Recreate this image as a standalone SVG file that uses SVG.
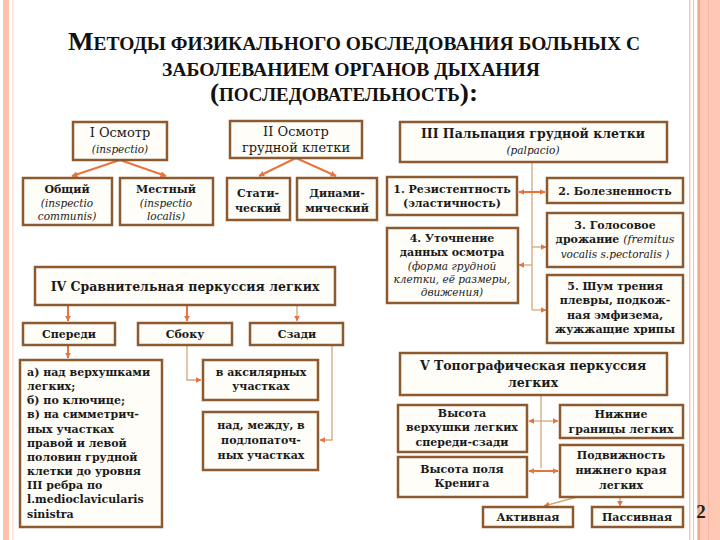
<svg xmlns="http://www.w3.org/2000/svg" width="720" height="540" viewBox="0 0 720 540">
<style>
.box{fill:#FEFDF8;stroke:#8C5A2E;stroke-width:2.5}
.t{font-family:"DejaVu Serif","Liberation Serif",serif;font-weight:bold;font-size:11px;fill:#1a1a1a;text-anchor:middle}
.h{font-family:"DejaVu Serif","Liberation Serif",serif;font-weight:bold;font-size:12.5px;fill:#1a1a1a;text-anchor:middle}
.r{font-family:"DejaVu Serif","Liberation Serif",serif;font-size:13px;fill:#1a1a1a;text-anchor:middle}
.i{font-family:"DejaVu Serif","Liberation Serif",serif;font-style:italic;font-weight:normal;font-size:10.5px;fill:#1a1a1a;text-anchor:middle}
.l{font-family:"DejaVu Serif","Liberation Serif",serif;font-weight:bold;font-size:11px;fill:#1a1a1a}
.title{font-family:"Liberation Serif","DejaVu Serif",serif;font-weight:bold;fill:#111;text-anchor:start}
.a{fill:none;stroke:#E8743B;stroke-width:2}
.ln{fill:none;stroke:#D2A878;stroke-width:1.3}
</style>
<defs>
<marker id="ah" viewBox="0 0 10 10" refX="9" refY="5" markerWidth="6" markerHeight="6" orient="auto-start-reverse" markerUnits="userSpaceOnUse">
<path d="M0,0 L10,5 L0,10 z" fill="#E8743B"/>
</marker>
</defs>
<rect width="720" height="540" fill="#FFFFFF"/>
<g id="frame">
<rect x="3" y="0" width="6" height="540" fill="#FFC2AC"/>
<rect x="12" y="0" width="1.5" height="540" fill="#FBE3D8"/>
<rect x="689" y="0" width="1.5" height="540" fill="#E9CDBE"/>
<rect x="693" y="0" width="1" height="540" fill="#E4C6B4"/>
<rect x="697" y="0" width="23" height="540" fill="#FFC8B4"/>
<rect x="698" y="0" width="2" height="540" fill="#F2A88E"/>
<rect x="708" y="0" width="1" height="540" fill="#F6B8A2"/>
</g>
<g id="title">
<text class="title" x="68" y="50" textLength="572" lengthAdjust="spacingAndGlyphs"><tspan font-size="25">М</tspan><tspan font-size="18">ЕТОДЫ ФИЗИКАЛЬНОГО ОБСЛЕДОВАНИЯ БОЛЬНЫХ С</tspan></text>
<text class="title" x="162" y="76" font-size="18" textLength="378" lengthAdjust="spacingAndGlyphs">ЗАБОЛЕВАНИЕМ ОРГАНОВ ДЫХАНИЯ</text>
<text class="title" x="210" y="101" textLength="268" lengthAdjust="spacingAndGlyphs"><tspan font-size="26">(</tspan><tspan font-size="18">ПОСЛЕДОВАТЕЛЬНОСТЬ</tspan><tspan font-size="26">):</tspan></text>
</g>
<g id="connectors">
<path class="a" d="M120,160 L72,176" marker-end="url(#ah)"/>
<path class="a" d="M120,160 L166,176" marker-end="url(#ah)"/>
<path class="a" d="M296,158 L259,176" marker-end="url(#ah)"/>
<path class="a" d="M296,158 L336,176" marker-end="url(#ah)"/>
<path class="ln" d="M532,162 L532,310"/>
<path class="a" d="M519,192 L545,192" marker-start="url(#ah)" marker-end="url(#ah)"/>
<path class="ln" d="M532,247 L546,247" marker-end="url(#ah)"/>
<path class="ln" d="M532,265 L519,265" marker-end="url(#ah)"/>
<path class="ln" d="M532,310 L546,310" marker-end="url(#ah)"/>
<path class="a" d="M68,305 L68,321" marker-end="url(#ah)"/>
<path class="a" d="M187,305 L187,321" marker-end="url(#ah)"/>
<path class="ln" d="M297,305 L297,321" marker-end="url(#ah)"/>
<path class="a" d="M68,345 L68,358" marker-end="url(#ah)"/>
<path class="ln" d="M187,345 L187,380 L201,380" marker-end="url(#ah)"/>
<path class="ln" d="M332,345 L332,440 L320,440" marker-end="url(#ah)"/>
<path class="ln" d="M541,395 L541,468"/>
<path class="ln" d="M529,421 L558,421" marker-start="url(#ah)" marker-end="url(#ah)"/>
<path class="a" d="M529,471 L558,471" stroke-width="2.5" marker-start="url(#ah)" marker-end="url(#ah)"/>
<path class="ln" d="M577,497 L544,506" marker-end="url(#ah)"/>
<path class="ln" d="M620,497 L620,506" marker-end="url(#ah)"/>
</g>
<g id="n-osmotr1"><rect class="box" x="73" y="122" width="94" height="38"/><text class="r" x="120" y="137">I  Осмотр</text><text class="i" x="120" y="153" font-size="12">(inspectio)</text></g>
<g id="n-osmotr2"><rect class="box" x="230" y="121" width="132" height="37"/><text class="r" x="296" y="136">II  Осмотр</text><text class="r" x="296" y="152">грудной клетки</text></g>
<g id="n-palp"><rect class="box" x="400" y="122" width="267" height="40"/><text class="h" x="533" y="138">III  Пальпация грудной клетки</text><text class="i" x="533" y="154" font-size="12">(palpacio)</text></g>
<g id="n-obshiy"><rect class="box" x="23" y="178" width="89" height="47"/><text class="t" x="67" y="193">Общий</text><text class="i" x="67" y="207">(inspectio</text><text class="i" x="67" y="220">communis)</text></g>
<g id="n-mestny"><rect class="box" x="120" y="178" width="93" height="47"/><text class="t" x="166" y="193">Местный</text><text class="i" x="166" y="207">(inspectio</text><text class="i" x="166" y="220">localis)</text></g>
<g id="n-stat"><rect class="box" x="227" y="178" width="63" height="42"/><text class="t" x="258" y="197">Стати-</text><text class="t" x="258" y="212">ческий</text></g>
<g id="n-din"><rect class="box" x="297" y="178" width="80" height="42"/><text class="t" x="337" y="197">Динами-</text><text class="t" x="337" y="212">мический</text></g>
<g id="n-p1"><rect class="box" x="387" y="177" width="130" height="38"/><text class="t" x="452" y="193">1. Резистентность</text><text class="t" x="452" y="207">(эластичность)</text></g>
<g id="n-p2"><rect class="box" x="547" y="178" width="136" height="25"/><text class="t" x="615" y="195">2. Болезненность</text></g>
<g id="n-p3"><rect class="box" x="547" y="213" width="136" height="54"/><text class="t" x="615" y="229">3. Голосовое</text><text class="t" x="615" y="243">дрожание <tspan font-style="italic" font-weight="normal">(fremitus</tspan></text><text class="i" x="615" y="258">vocalis  s.pectoralis )</text></g>
<g id="n-p4"><rect class="box" x="387" y="228" width="131" height="75"/><text class="t" x="452" y="242">4. Уточнение</text><text class="t" x="452" y="256">данных осмотра</text><text class="i" x="452" y="270">(форма грудной</text><text class="i" x="452" y="283">клетки, её размеры,</text><text class="i" x="452" y="296">движения)</text></g>
<g id="n-p5"><rect class="box" x="547" y="275" width="136" height="68"/><text class="t" x="615" y="290">5. Шум трения</text><text class="t" x="615" y="304">плевры, подкож-</text><text class="t" x="615" y="319">ная эмфизема,</text><text class="t" x="615" y="333">жужжащие хрипы</text></g>
<g id="n-perk"><rect class="box" x="35" y="267" width="300" height="38"/><text class="h" x="185" y="291">IV  Сравнительная перкуссия легких</text></g>
<g id="n-speredi"><rect class="box" x="23" y="323" width="92" height="22"/><text class="t" x="69" y="338" font-size="12">Спереди</text></g>
<g id="n-sboku"><rect class="box" x="138" y="323" width="94" height="22"/><text class="t" x="185" y="338" font-size="12">Сбоку</text></g>
<g id="n-szadi"><rect class="box" x="250" y="323" width="93" height="22"/><text class="t" x="297" y="338" font-size="12">Сзади</text></g>
<g id="n-list"><rect class="box" x="20" y="360" width="142" height="167"/>
<text class="l" x="27" y="376">а) над верхушками</text>
<text class="l" x="27" y="390">легких;</text>
<text class="l" x="27" y="404">б) по ключице;</text>
<text class="l" x="27" y="418">в) на симметрич-</text>
<text class="l" x="27" y="433">ных участках</text>
<text class="l" x="27" y="447">правой и левой</text>
<text class="l" x="27" y="461">половин грудной</text>
<text class="l" x="27" y="475">клетки до уровня</text>
<text class="l" x="27" y="489">III  ребра по</text>
<text class="l" x="27" y="503">l.medioclavicularis</text>
<text class="l" x="27" y="518">sinistra</text></g>
<g id="n-aks"><rect class="box" x="203" y="360" width="115" height="40"/><text class="t" x="261" y="376">в аксилярных</text><text class="t" x="261" y="390">участках</text></g>
<g id="n-nad"><rect class="box" x="203" y="412" width="115" height="58"/><text class="t" x="261" y="429">над, между, в</text><text class="t" x="261" y="444">подлопаточ-</text><text class="t" x="261" y="459">ных участках</text></g>
<g id="n-topo"><rect class="box" x="400" y="353" width="267" height="42"/><text class="h" x="533" y="370">V  Топографическая перкуссия</text><text class="h" x="533" y="387">легких</text></g>
<g id="n-vys"><rect class="box" x="398" y="405" width="129" height="47"/><text class="t" x="462" y="417">Высота</text><text class="t" x="462" y="431">верхушки легких</text><text class="t" x="462" y="446">спереди-сзади</text></g>
<g id="n-nizh"><rect class="box" x="560" y="405" width="123" height="33"/><text class="t" x="621" y="418">Нижние</text><text class="t" x="621" y="433">границы легких</text></g>
<g id="n-kren"><rect class="box" x="398" y="457" width="129" height="40"/><text class="t" x="462" y="473">Высота поля</text><text class="t" x="462" y="487">Кренига</text></g>
<g id="n-podv"><rect class="box" x="560" y="445" width="123" height="52"/><text class="t" x="621" y="459">Подвижность</text><text class="t" x="621" y="474">нижнего края</text><text class="t" x="621" y="489">легких</text></g>
<g id="n-akt"><rect class="box" x="483" y="507" width="90" height="20"/><text class="t" x="528" y="521">Активная</text></g>
<g id="n-pas"><rect class="box" x="592" y="507" width="91" height="20"/><text class="t" x="637" y="521">Пассивная</text></g>
<text x="701" y="518" font-family="Liberation Serif,serif" font-weight="bold" font-size="19" fill="#222" text-anchor="middle">2</text>
</svg>
